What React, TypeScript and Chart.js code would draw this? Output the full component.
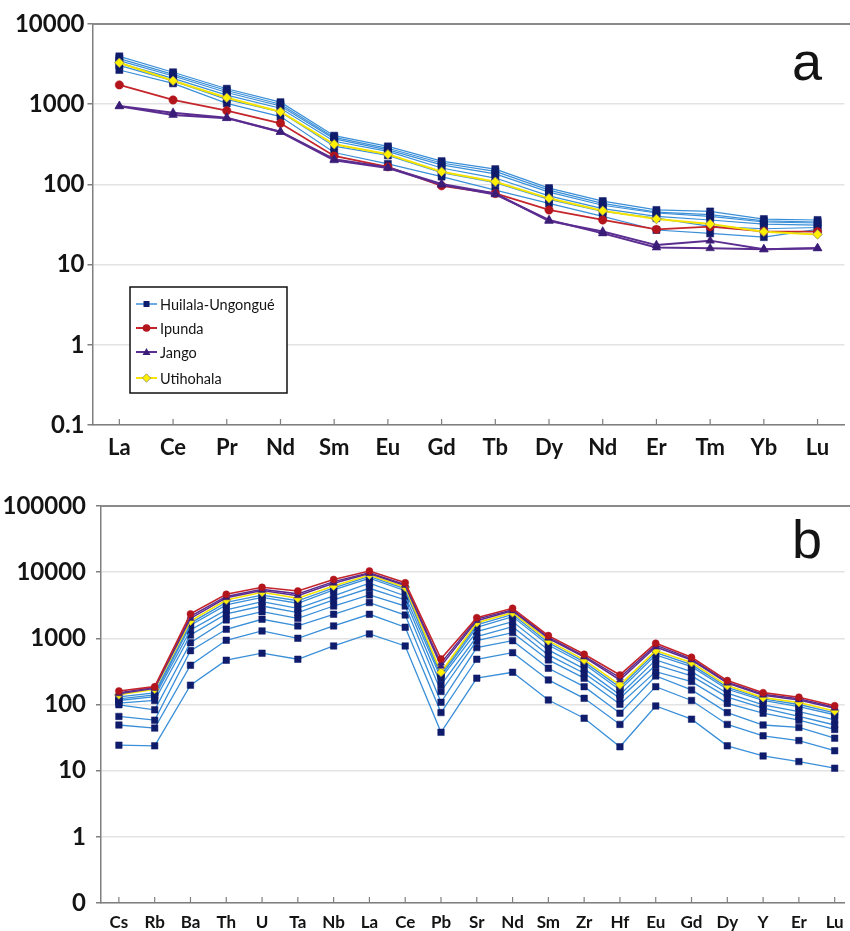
import React, { useEffect, useRef } from 'react';
import { Chart, registerables } from 'chart.js';

Chart.register(...registerables);

// ---------------- Panel a : REE ----------------
const reeLabels = ['La', 'Ce', 'Pr', 'Nd', 'Sm', 'Eu', 'Gd', 'Tb', 'Dy', 'Nd', 'Er', 'Tm', 'Yb', 'Lu'];
const reeYTicks = [0.1, 1, 10, 100, 1000, 10000];
const reeYTickLabels = ['0.1', '1', '10', '100', '1000', '10000'];

const reeHuilala1 = [3950, 2500, 1560, 1060, 405, 298, 195, 155, 90, 62, 48, 46, 37, 36];
const reeHuilala2 = [3700, 2350, 1480, 1000, 385, 282, 185, 145, 85, 58, 45, 42, 35, 34];
const reeHuilala3 = [3500, 2250, 1400, 950, 370, 270, 175, 135, 80, 55, 44, 40, 34, 33];
const reeHuilala4 = [3250, 2100, 1300, 890, 345, 258, 160, 120, 72, 50, 40, 36, 32, 31];
const reeHuilala5 = [3050, 1950, 1150, 800, 300, 230, 140, 105, 65, 46, 38, 30, 28, 29];
const reeHuilala6 = [2670, 1820, 1025, 700, 250, 180, 125, 85, 58, 40, 27, 24.5, 22, 27.5];
const reeIpunda = [1740, 1130, 830, 578, 226, 166, 96, 77, 48, 36, 27.5, 29.7, 26, 25.7];
const reeJango1 = [950, 783, 679, 454, 206, 163, 101, 77, 35, 25.8, 17.5, 19.9, 15.5, 16];
const reeJango2 = [940, 733, 670, 450, 200, 160, 99, 75, 36, 24.5, 16.3, 16, 15.5, 16];
const reeUtihohala = [3290, 1960, 1205, 806, 316, 237, 144, 108, 67, 47, 37, 32, 25.7, 23.8];

// ---------------- Panel b : trace elements ----------------
const teLabels = ['Cs', 'Rb', 'Ba', 'Th', 'U', 'Ta', 'Nb', 'La', 'Ce', 'Pb', 'Sr', 'Nd', 'Sm', 'Zr', 'Hf', 'Eu', 'Gd', 'Dy', 'Y', 'Er', 'Lu'];
const teYTicks = [0.1, 1, 10, 100, 1000, 10000, 100000];
const teYTickLabels = ['0', '1', '10', '100', '1000', '10000', '100000'];
const teXMin = -0.5;
const teXMax = 20.28;

const teHuilala1 = [24.3, 23.7, 196, 467, 596, 483, 767, 1165, 767, 38, 250, 307, 117, 62, 23, 95, 60, 23.7, 16.7, 13.7, 10.9];
const teHuilala2 = [49, 44, 392, 935, 1295, 1002, 1540, 2310, 1470, 75.5, 483, 608, 235, 124, 50, 186, 115, 50, 33.6, 28.5, 20];
const teHuilala3 = [66, 58, 652, 1370, 1940, 1540, 2310, 3470, 2250, 108, 724, 923, 353, 186, 74, 270, 166, 75.5, 49, 45, 31];
const teHuilala4 = [99, 83, 861, 1900, 2530, 2010, 3080, 4530, 3080, 157, 923, 1220, 472, 250, 101, 314, 222, 104, 74, 58, 42];
const teHuilala5 = [105, 115, 1125, 2340, 3080, 2440, 3800, 5710, 3800, 198, 1061, 1500, 561, 297, 124, 396, 270, 129, 88, 66, 49];
const teHuilala6 = [115, 131, 1340, 2690, 3580, 2845, 4370, 6800, 4370, 250, 1262, 1790, 668, 345, 140, 472, 314, 148, 99, 78, 58.5];
const teHuilala7 = [122, 140, 1585, 3200, 4170, 3390, 5380, 8090, 5250, 270, 1470, 2130, 794, 410, 166, 561, 374, 170, 115, 93, 70];
const teHuilala8 = [130, 150, 1700, 3500, 4500, 3700, 5800, 8600, 5600, 290, 1600, 2300, 860, 440, 182, 610, 400, 182, 122, 100, 75];
const teIpunda = [160, 186, 2340, 4630, 5900, 5200, 7760, 10400, 6930, 489, 2055, 2845, 1100, 575, 280, 843, 518, 230, 151, 129, 96];
const teJango1 = [150, 180, 2150, 4300, 5500, 4700, 7200, 9800, 6500, 421, 1950, 2700, 1040, 540, 255, 790, 490, 218, 143, 122, 91];
const teJango2 = [145, 175, 2000, 4100, 5300, 4400, 6800, 9500, 6300, 380, 1850, 2600, 1000, 520, 235, 740, 470, 210, 138, 117, 88];
const teUtihohala = [140, 170, 1830, 3800, 4970, 4030, 6190, 9070, 5920, 307, 1725, 2440, 923, 472, 198, 651, 431, 193, 127, 107, 80];

// ---------------- styles ----------------
const HU_LINE = '#3a8fd8';
const HU_MARK = '#0f1b6b';
const IP_LINE = '#c4262c';
const IP_MARK = '#b3151c';
const JA_LINE = '#5b2d90';
const JA_MARK = '#3b1c76';
const UT_LINE = '#f5e300';
const UT_MARK = '#fff000';
const UT_BORDER = '#8c8a66';
const AXIS_GRAY = '#7f7f7f';
const GRID_GRAY = '#e3e3e3';
const TEXT = '#141414';

const legendNames = ['Huilala-Ungongué', 'Ipunda', 'Jango', 'Utihohala'];

type Kind = 'hu' | 'ip' | 'ja' | 'ut';

function makeDataset(label: string, values: number[], kind: Kind, small: boolean, asXY: boolean) {
  const data = asXY ? values.map((v, i) => ({ x: i, y: v })) : values;
  const base: any = { label, data, tension: 0, fill: false, pointHoverRadius: 0 };
  if (kind === 'hu') {
    return { ...base, borderColor: HU_LINE, borderWidth: small ? 1.3 : 1.2, pointStyle: 'rect', pointRadius: small ? 4.6 : 5, pointBackgroundColor: HU_MARK, pointBorderColor: HU_MARK, pointBorderWidth: 0.5 };
  }
  if (kind === 'ip') {
    return { ...base, borderColor: IP_LINE, borderWidth: small ? 1.6 : 1.8, pointStyle: 'circle', pointRadius: small ? 3.5 : 4.2, pointBackgroundColor: IP_MARK, pointBorderColor: IP_MARK, pointBorderWidth: 0.5 };
  }
  if (kind === 'ja') {
    return { ...base, borderColor: JA_LINE, borderWidth: small ? 1.5 : 2, pointStyle: 'triangle', pointRadius: small ? 4 : 5, pointBackgroundColor: JA_MARK, pointBorderColor: JA_MARK, pointBorderWidth: 0.5 };
  }
  return { ...base, borderColor: UT_LINE, borderWidth: small ? 1.6 : 2, pointStyle: 'rectRot', pointRadius: small ? 4.5 : 4.8, pointBackgroundColor: UT_MARK, pointBorderColor: UT_BORDER, pointBorderWidth: 0.8 };
}

function drawMarker(ctx: CanvasRenderingContext2D, kind: Kind, x: number, y: number) {
  ctx.save();
  ctx.beginPath();
  if (kind === 'hu') {
    ctx.fillStyle = HU_MARK;
    ctx.rect(x - 3, y - 3, 6, 6);
    ctx.fill();
  } else if (kind === 'ip') {
    ctx.fillStyle = IP_MARK;
    ctx.arc(x, y, 3.8, 0, Math.PI * 2);
    ctx.fill();
  } else if (kind === 'ja') {
    ctx.fillStyle = JA_MARK;
    ctx.moveTo(x, y - 4);
    ctx.lineTo(x + 4, y + 3);
    ctx.lineTo(x - 4, y + 3);
    ctx.closePath();
    ctx.fill();
  } else {
    ctx.fillStyle = UT_MARK;
    ctx.strokeStyle = UT_BORDER;
    ctx.lineWidth = 0.8;
    ctx.moveTo(x - 4.2, y);
    ctx.lineTo(x, y - 4.2);
    ctx.lineTo(x + 4.2, y);
    ctx.lineTo(x, y + 4.2);
    ctx.closePath();
    ctx.fill();
    ctx.stroke();
  }
  ctx.restore();
}

function framePlugin(letter: string, letterX: number, letterY: number, withLegend: boolean) {
  return {
    id: 'frame-' + letter,
    beforeDatasetsDraw(chart: any) {
      const ctx = chart.ctx as CanvasRenderingContext2D;
      const area = chart.chartArea;
      const xs = chart.scales.x;
      ctx.save();
      ctx.strokeStyle = AXIS_GRAY;
      ctx.lineWidth = 1.2;
      for (let i = 0; i < xs.ticks.length; i++) {
        const px = xs.getPixelForTick(i);
        ctx.beginPath();
        ctx.moveTo(px, area.bottom);
        ctx.lineTo(px, area.bottom - 6);
        ctx.stroke();
      }
      ctx.strokeStyle = '#8a8a8a';
      ctx.lineWidth = 2;
      ctx.beginPath();
      ctx.moveTo(area.left, area.top);
      ctx.lineTo(chart.width, area.top);
      ctx.stroke();
      ctx.restore();
    },
    afterDraw(chart: any) {
      const ctx = chart.ctx as CanvasRenderingContext2D;
      ctx.save();
      ctx.fillStyle = TEXT;
      ctx.font = '54px "Liberation Sans", Arial, sans-serif';
      ctx.textAlign = 'center';
      ctx.textBaseline = 'alphabetic';
      ctx.fillText(letter, letterX, letterY);
      if (withLegend) {
        const bx = 130, by = 287, bw = 157, bh = 106;
        ctx.fillStyle = '#ffffff';
        ctx.fillRect(bx, by, bw, bh);
        ctx.strokeStyle = '#111';
        ctx.lineWidth = 1.5;
        ctx.strokeRect(bx, by, bw, bh);
        const kinds: Kind[] = ['hu', 'ip', 'ja', 'ut'];
        const lineCols = [HU_LINE, IP_LINE, JA_LINE, UT_LINE];
        const ys = [304, 328, 352, 378];
        ctx.font = '14.5px Lato, "Open Sans", sans-serif';
        ctx.textAlign = 'left';
        ctx.textBaseline = 'middle';
        for (let i = 0; i < kinds.length; i++) {
          ctx.strokeStyle = lineCols[i];
          ctx.lineWidth = i === 0 ? 1.5 : 2;
          ctx.beginPath();
          ctx.moveTo(136, ys[i]);
          ctx.lineTo(157, ys[i]);
          ctx.stroke();
          drawMarker(ctx, kinds[i], 146.5, ys[i]);
          ctx.fillStyle = TEXT;
          ctx.fillText(legendNames[i], 160, ys[i] + 1);
        }
      }
      ctx.restore();
    },
  };
}

function ReeChart() {
  const ref = useRef<HTMLCanvasElement | null>(null);
  useEffect(() => {
    if (!ref.current) return;
    const datasets = [
      makeDataset('Utihohala', reeUtihohala, 'ut', false, false),
      makeDataset('Jango', reeJango1, 'ja', false, false),
      makeDataset('Jango', reeJango2, 'ja', false, false),
      makeDataset('Ipunda', reeIpunda, 'ip', false, false),
      makeDataset('Huilala-Ungongué', reeHuilala1, 'hu', false, false),
      makeDataset('Huilala-Ungongué', reeHuilala2, 'hu', false, false),
      makeDataset('Huilala-Ungongué', reeHuilala3, 'hu', false, false),
      makeDataset('Huilala-Ungongué', reeHuilala4, 'hu', false, false),
      makeDataset('Huilala-Ungongué', reeHuilala5, 'hu', false, false),
      makeDataset('Huilala-Ungongué', reeHuilala6, 'hu', false, false),
    ];
    const chart = new Chart(ref.current, {
      type: 'line',
      data: { labels: reeLabels, datasets },
      options: {
        animation: false,
        responsive: false,
        maintainAspectRatio: false,
        layout: { padding: { top: 24, right: 2, left: 0, bottom: 0 } },
        plugins: { legend: { display: false }, tooltip: { enabled: false } },
        scales: {
          x: {
            type: 'category',
            offset: true,
            afterFit: (s: any) => { s.height = 50; s.paddingLeft = 0; s.paddingRight = 0; },
            ticks: { font: { family: 'Lato', size: 22, weight: 'bold' }, color: TEXT, padding: 10, autoSkip: false, maxRotation: 0 },
            grid: { display: false, drawTicks: false },
            border: { display: true, color: AXIS_GRAY, width: 1.5 },
          },
          y: {
            type: 'logarithmic',
            min: 0.1,
            max: 10000,
            afterBuildTicks: (s: any) => { s.ticks = reeYTicks.map((v) => ({ value: v })); },
            afterFit: (s: any) => { s.width = 92.5; },
            ticks: {
              callback: (v: any) => { const i = reeYTicks.indexOf(v); return i >= 0 ? reeYTickLabels[i] : ''; },
              font: { family: 'Lato', size: 24, weight: 'bold' }, color: TEXT, padding: 3, autoSkip: false,
            },
            grid: { color: GRID_GRAY, lineWidth: 1.5, tickColor: AXIS_GRAY, tickLength: 5, drawTicks: true },
            border: { display: true, color: AXIS_GRAY, width: 1.5 },
          },
        },
      } as any,
      plugins: [framePlugin('a', 807, 80, true)],
    });
    return () => chart.destroy();
  }, []);
  return <canvas ref={ref} width={850} height={475} style={{ display: 'block', width: 850, height: 475 }} />;
}

function TraceChart() {
  const ref = useRef<HTMLCanvasElement | null>(null);
  useEffect(() => {
    if (!ref.current) return;
    const datasets = [
      makeDataset('Ipunda', teIpunda, 'ip', true, true),
      makeDataset('Jango', teJango1, 'ja', true, true),
      makeDataset('Jango', teJango2, 'ja', true, true),
      makeDataset('Utihohala', teUtihohala, 'ut', true, true),
      makeDataset('Huilala-Ungongué', teHuilala8, 'hu', true, true),
      makeDataset('Huilala-Ungongué', teHuilala7, 'hu', true, true),
      makeDataset('Huilala-Ungongué', teHuilala6, 'hu', true, true),
      makeDataset('Huilala-Ungongué', teHuilala5, 'hu', true, true),
      makeDataset('Huilala-Ungongué', teHuilala4, 'hu', true, true),
      makeDataset('Huilala-Ungongué', teHuilala3, 'hu', true, true),
      makeDataset('Huilala-Ungongué', teHuilala2, 'hu', true, true),
      makeDataset('Huilala-Ungongué', teHuilala1, 'hu', true, true),
    ];
    const chart = new Chart(ref.current, {
      type: 'line',
      data: { datasets },
      options: {
        animation: false,
        responsive: false,
        maintainAspectRatio: false,
        layout: { padding: { top: 31, right: 0, left: 0, bottom: 0 } },
        plugins: { legend: { display: false }, tooltip: { enabled: false } },
        scales: {
          x: {
            type: 'linear',
            min: teXMin,
            max: teXMax,
            afterBuildTicks: (s: any) => { s.ticks = teLabels.map((_, i) => ({ value: i })); },
            afterFit: (s: any) => { s.height = 28; s.paddingLeft = 0; s.paddingRight = 0; },
            ticks: {
              callback: (v: any) => teLabels[v] ?? '',
              font: { family: 'Lato', size: 17, weight: 'bold' }, color: TEXT, padding: 9, autoSkip: false, maxRotation: 0,
            },
            grid: { display: false, drawTicks: false },
            border: { display: true, color: AXIS_GRAY, width: 1.5 },
          },
          y: {
            type: 'logarithmic',
            min: 0.1,
            max: 100000,
            afterBuildTicks: (s: any) => { s.ticks = teYTicks.map((v) => ({ value: v })); },
            afterFit: (s: any) => { s.width = 101; },
            ticks: {
              callback: (v: any) => { const i = teYTicks.indexOf(v); return i >= 0 ? teYTickLabels[i] : ''; },
              font: { family: 'Lato', size: 24, weight: 'bold' }, color: TEXT, padding: 10, autoSkip: false,
            },
            grid: { color: GRID_GRAY, lineWidth: 1.5, tickColor: AXIS_GRAY, tickLength: 5, drawTicks: true },
            border: { display: true, color: AXIS_GRAY, width: 1.5 },
          },
        },
      } as any,
      plugins: [framePlugin('b', 807, 83, false)],
    });
    return () => chart.destroy();
  }, []);
  return <canvas ref={ref} width={850} height={456} style={{ display: 'block', width: 850, height: 456 }} />;
}

export default function App() {
  return (
    <div style={{ position: 'absolute', left: 0, top: 0, width: 850, height: 931, background: '#ffffff', overflow: 'hidden' }}>
      <ReeChart />
      <TraceChart />
    </div>
  );
}
